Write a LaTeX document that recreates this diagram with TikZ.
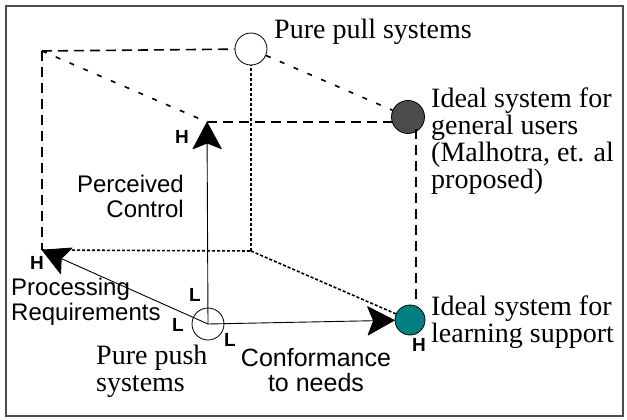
\documentclass[tikz,border=0pt]{standalone}
\usepackage{fontspec}
\setmainfont{Liberation Serif}
\setsansfont{Liberation Sans}
\usetikzlibrary{arrows.meta}
\definecolor{tealfill}{RGB}{0,128,128}
\tikzset{
  axis/.style = {line width=0.9pt, -{Stealth[length=28pt, width=30pt, inset=6pt, round=false]}},
  hidden/.style = {line width=1.6pt, dash pattern=on 10pt off 6pt},
  back/.style = {line width=1.6pt, dash pattern=on 3pt off 2pt},
  spot/.style = {circle, draw, line width=0.8pt, minimum size=32pt, inner sep=0pt},
  lvl/.style = {font=\sffamily\bfseries\fontsize{19}{19}\selectfont, inner sep=0pt},
  serif/.style = {font=\fontsize{28}{27}\selectfont, align=left, inner sep=0pt},
  sans/.style = {font=\sffamily\fontsize{24}{25}\selectfont, inner sep=0pt}
}
\begin{document}
\begin{tikzpicture}[x=1pt, y=-1pt]
  \useasboundingbox (0,0) rectangle (627,420);
  \draw[line width=2pt, black!70] (6,6) rectangle (623,416);
  % cube corners
  \coordinate (ptip) at (42,250);
  \coordinate (ctip) at (207,122);
  \coordinate (pc) at (42,51);
  \coordinate (pn) at (251,251);
  \node[spot] (push) at (208,324) {};
  \node[spot] (pull) at (251,49) {};
  \node[spot, fill=black!70, minimum size=33pt] (gen) at (408,117) {};
  \node[spot, fill=tealfill, minimum width=33pt, minimum size=30pt] (learn) at (410,320) {};
  % hidden edges
  \draw[hidden] (pc) -- (pull);
  \draw[hidden] (pc) -- (ptip);
  \draw[hidden, dash pattern=on 5pt off 10pt] (pc) -- (ctip);
  \draw[hidden] (ctip) -- (gen.south west |- ctip);
  \draw[hidden, dash pattern=on 5pt off 10pt] (pull) -- (gen);
  \draw[hidden] (gen.south east) ++(-4pt,0) coordinate (gs) -- (gs |- learn.north);
  \draw[back] (ptip) -- (pn);
  \draw[back] (pn) -- (pull);
  \draw[back] (pn) -- (learn);
  % axes
  \draw[axis] (push.center) -- (ctip);
  \draw[axis] (push.center) -- (ptip);
  \draw[axis] (push.center) -- (learn);
  % H / L marks
  \node[lvl] (hc) at (182,137) {H};
  \node[lvl] (hp) at (37,263) {H};
  \node[lvl] (hn) at (419,345) {H};
  \node[lvl] (lc) at (195,295) {L};
  \node[lvl] (lp) at (178,325) {L};
  \node[lvl] (ln) at (230,340) {L};
  % labels
  \node[serif, anchor=west] (pulltxt) at (274,32) {Pure pull systems};
  \node[serif, anchor=west] (gentxt) at (431,141) {Ideal system for\\general users\\(Malhotra, et. al\\proposed)};
  \node[serif, anchor=west, font=\fontsize{28}{24}\selectfont] (learntxt) at (431,322) {Ideal system for\\learning support};
  \node[serif, anchor=west] (pushtxt) at (96,371) {Pure push\\systems};
  \node[sans, align=center, font=\sffamily\fontsize{25}{25}\selectfont] (conftxt) at (316,370) {Conformance\\to needs};
  \node[sans, align=left, anchor=west] (proctxt) at (11,302) {Processing\\Requirements};
  \node[sans, align=right, anchor=east] (ctltxt) at (184,196) {Perceived\\Control};
\end{tikzpicture}
\end{document}
